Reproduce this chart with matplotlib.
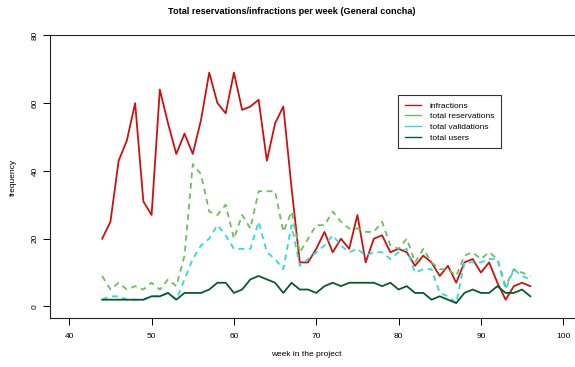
import numpy as np
import matplotlib
matplotlib.use('Agg')
import matplotlib.pyplot as plt
from matplotlib.lines import Line2D

plt.rcParams['font.family'] = ['Liberation Sans', 'DejaVu Sans']

# weekly counts, weeks 44..96
weeks = list(range(44, 97))
infractions = [20, 25, 43, 49, 60, 31, 27, 64, 54, 45, 51, 45, 55, 69, 60, 57, 69, 58, 59, 61,
               43, 54, 59, 35, 13, 13, 17, 22, 16, 20, 17, 27, 13, 20, 21, 16, 17, 16, 12, 15,
               13, 9, 12, 7, 13, 14, 10, 13, 7, 2, 6, 7, 6]
reservations = [9, 5, 7, 5, 6, 5, 7, 5, 8, 6, 15, 42, 39, 28, 27, 30, 20, 27, 23, 34,
                34, 34, 22, 28, 16, 20, 24, 24, 28, 25, 23, 23, 22, 22, 25, 18, 17, 20, 13, 17,
                13, 11, 11, 9, 15, 16, 14, 16, 14, 6, 11, 10, 9]
validations = [2, 3, 3, 2, 2, 2, 3, 3, 4, 2, 8, 14, 18, 20, 24, 21, 17, 17, 17, 25,
               16, 14, 11, 24, 12, 14, 16, 18, 21, 18, 16, 17, 15, 16, 16, 14, 16, 17, 10, 11,
               11, 4, 3, 1, 13, 13, 13, 14, 14, 5, 11, 9, 8]
users = [2, 2, 2, 2, 2, 2, 3, 3, 4, 2, 4, 4, 4, 5, 7, 7, 4, 5, 8, 9,
         8, 7, 4, 7, 5, 5, 4, 6, 7, 6, 7, 7, 7, 7, 6, 7, 5, 6, 4, 4,
         2, 3, 2, 1, 4, 5, 4, 4, 6, 4, 4, 5, 3]

labels = ['infractions', 'total reservations', 'total validations', 'total users']
colors = ['#cc1111', '#6cc05a', '#2edada', '#0b5a2c']

W, H = 575, 367
fig = plt.figure(figsize=(W/100, H/100), dpi=100)
x0, x1, yb, yt = 49.5, 583, 318, 35
ax = fig.add_axes([x0/W, 1-yb/H, (x1-x0)/W, (yb-yt)/H])

lw = 1.3
ax.plot(weeks, infractions, color=colors[0], lw=lw)
ax.plot(weeks, reservations, color=colors[1], lw=lw, dashes=(3.2, 2.6))
ax.plot(weeks, validations, color=colors[2], lw=lw, dashes=(3.2, 2.6))
ax.plot(weeks, users, color=colors[3], lw=lw)

ax.set_xlim(37.6, 102.4)
ax.set_ylim(-3.4, 80.1)
ax.set_xticks(range(40, 101, 10))
ax.set_yticks(range(0, 81, 20))
ax.set_yticklabels([str(v) for v in range(0, 81, 20)], rotation=90, va='center')
ax.tick_params(axis='both', direction='out', length=5, width=0.7, labelsize=6, colors='black')
ax.tick_params(axis='x', pad=6)
ax.tick_params(axis='y', pad=3)
for s in ax.spines.values():
    s.set_linewidth(0.8)
    s.set_color('#222222')

fig.text(292/W, 1-12/H, 'Total reservations/infractions per week (General concha)',
         ha='center', va='center', fontsize=6.6, fontweight='bold')
fig.text(306/W, 1-355/H, 'week in the project', ha='center', va='center', fontsize=6)
fig.text(13/W, 1-177/H, 'frequency', ha='center', va='center', fontsize=6, rotation=90)

handles = [Line2D([], [], color=c, lw=1.0) for c in colors]
leg = ax.legend(handles, labels, loc='upper left', bbox_to_anchor=(398/W, 1-95/H),
                bbox_transform=fig.transFigure, borderaxespad=0, fontsize=6,
                handlelength=2.0, handletextpad=1.0, labelspacing=0.35,
                borderpad=0.8, fancybox=False, framealpha=1)
leg.get_frame().set_edgecolor('#333333')
leg.get_frame().set_linewidth(0.8)

fig.savefig('out.png', dpi=100)
